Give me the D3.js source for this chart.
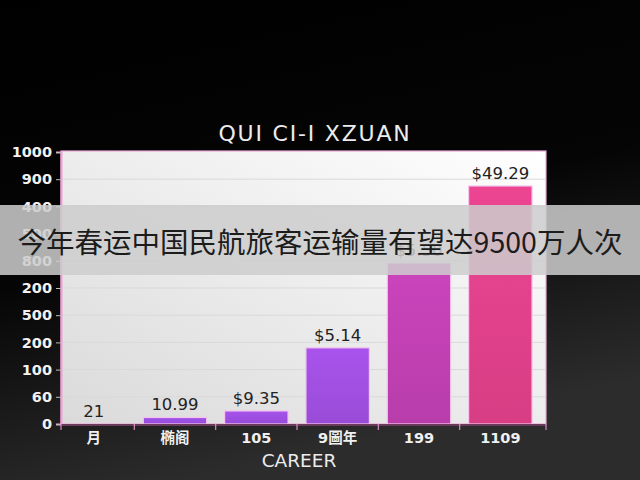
<!DOCTYPE html>
<html><head><meta charset="utf-8">
<script src="https://cdn.jsdelivr.net/npm/d3@7"></script>
<style>html,body{margin:0;padding:0;background:#000;overflow:hidden}</style>
</head><body>
<svg id="c" width="640" height="480"></svg>
<script>
const categories = ["月", "椭阁", "105", "9圖年", "199", "1109"];
const values = [0, 24, 48, 280, 592, 875];
const valueLabels = ["21", "10.99", "$9.35", "$5.14", "$5.50", "$49.29"];
const yTickValues = [0, 100, 200, 300, 400, 500, 600, 700, 800, 900, 1000];
const yTickLabels = ["0", "60", "100", "200", "500", "200", "800", "500", "400", "900", "1000"];
const barColors = ["#9a4fe0", "#9a4fe0", "#9d4ee0", "#a04fe0", "#c040b2", "#e0418a"];
const title = "QUI CI-I XZUAN";
const xTitle = "CAREER";
const banner = "今年春运中国民航旅客运输量有望达9500万人次";

(function(){
const svg = d3.select("#c");
const defs = svg.append("defs");
const bg = defs.append("linearGradient").attr("id","bg").attr("x1",0).attr("y1",0).attr("x2",0.3).attr("y2",1);
bg.append("stop").attr("offset","0%").attr("stop-color","#000");
bg.append("stop").attr("offset","55%").attr("stop-color","#050505");
bg.append("stop").attr("offset","100%").attr("stop-color","#2c2c2c");
svg.append("rect").attr("width",640).attr("height",480).attr("fill","url(#bg)");

const pg = defs.append("linearGradient").attr("id","pg").attr("x1",1).attr("y1",0).attr("x2",0).attr("y2",1);
pg.append("stop").attr("offset","0%").attr("stop-color","#ffffff");
pg.append("stop").attr("offset","100%").attr("stop-color","#dadada");

barColors.forEach((c,i)=>{
  const g = defs.append("linearGradient").attr("id","b"+i).attr("x1",0).attr("y1",0).attr("x2",0).attr("y2",1);
  g.append("stop").attr("offset","0%").attr("stop-color",d3.color(c).brighter(0.15));
  g.append("stop").attr("offset","100%").attr("stop-color",d3.color(c).darker(0.12));
});

const pTop = 152, pBottom = 424, pLeft = 61, pRight = 546;
const y = d3.scaleLinear().domain([0,1000]).range([pBottom, pTop]);
const x = d3.scaleBand().domain(categories).range([53, 541]).paddingInner(0.22).paddingOuter(0.11);
const font = "'DejaVu Sans', Lato, sans-serif";

svg.append("rect").attr("x",pLeft).attr("y",pTop-1).attr("width",pRight-pLeft).attr("height",pBottom-pTop+1)
  .attr("fill","url(#pg)").attr("stroke","#e9a8d6").attr("stroke-width",1.2);

svg.append("g").selectAll("line").data(yTickValues.slice(1,-1)).join("line")
  .attr("x1",pLeft+1).attr("x2",pRight-1).attr("y1",d=>y(d)).attr("y2",d=>y(d))
  .attr("stroke","#d9d9d9").attr("stroke-width",1);

const yAxis = d3.axisLeft(y).tickValues(yTickValues).tickSize(5).tickPadding(4)
  .tickFormat((d,i)=>yTickLabels[i]);
const ya = svg.append("g").attr("transform",`translate(${pLeft},0)`).call(yAxis);
ya.select(".domain").attr("stroke","#ef9fd6").attr("stroke-width",2);
ya.selectAll(".tick line").attr("stroke","#bbb");
ya.selectAll("text").attr("fill","#f2f2f2").attr("font-family",font)
  .attr("font-size",14.5).attr("font-weight","bold");

svg.append("g").selectAll("rect").data(values).join("rect")
  .attr("x",(d,i)=>x(categories[i])).attr("width",x.bandwidth())
  .attr("y",d=>y(d)).attr("height",d=>pBottom-y(d))
  .attr("fill",(d,i)=>`url(#b${i})`).attr("stroke","#f4c6ec").attr("stroke-width",1.2);

svg.append("g").selectAll("text").data(values).join("text")
  .attr("x",(d,i)=>x(categories[i])+x.bandwidth()/2).attr("y",d=>y(d)-7)
  .attr("text-anchor","middle").attr("fill","#222")
  .attr("font-family",font).attr("font-size",16.5)
  .text((d,i)=>valueLabels[i]);

svg.append("line").attr("x1",pLeft).attr("x2",pRight).attr("y1",pBottom+1).attr("y2",pBottom+1)
  .attr("stroke","#6a3a5a").attr("stroke-width",2);
const bounds = categories.map(c=>x(c)-x.step()*x.paddingInner()/2).concat([pRight]);
bounds[0] = pLeft;
svg.append("g").selectAll("line").data(bounds).join("line")
  .attr("x1",d=>d).attr("x2",d=>d).attr("y1",pBottom).attr("y2",pBottom+6)
  .attr("stroke","#d98cc4").attr("stroke-width",1.2);
svg.append("g").selectAll("text").data(categories).join("text")
  .attr("x",d=>x(d)+x.bandwidth()/2).attr("y",443).attr("text-anchor","middle")
  .attr("fill","#f0f0f0").attr("font-family","'DejaVu Sans', 'Noto Sans CJK SC', sans-serif")
  .attr("font-size",14.5).attr("font-weight","bold").text(d=>d);

svg.append("text").attr("x",299).attr("y",467).attr("text-anchor","middle")
  .attr("fill","#ececec").attr("font-family",font).attr("font-size",18.5)
  .text(xTitle);

svg.append("text").attr("x",315).attr("y",141).attr("text-anchor","middle")
  .attr("fill","#ececec").attr("font-family",font).attr("font-size",22)
  .attr("letter-spacing",1.8).text(title);

svg.append("rect").attr("x",0).attr("y",205).attr("width",640).attr("height",70)
  .attr("fill","rgba(205,205,205,0.86)");
svg.append("text").attr("x",320).attr("y",253).attr("text-anchor","middle")
  .attr("fill","#1c1c1c").attr("font-family","'Noto Sans CJK SC', sans-serif").attr("font-size",28.5)
  .text(banner);
})();
</script>
</body></html>
